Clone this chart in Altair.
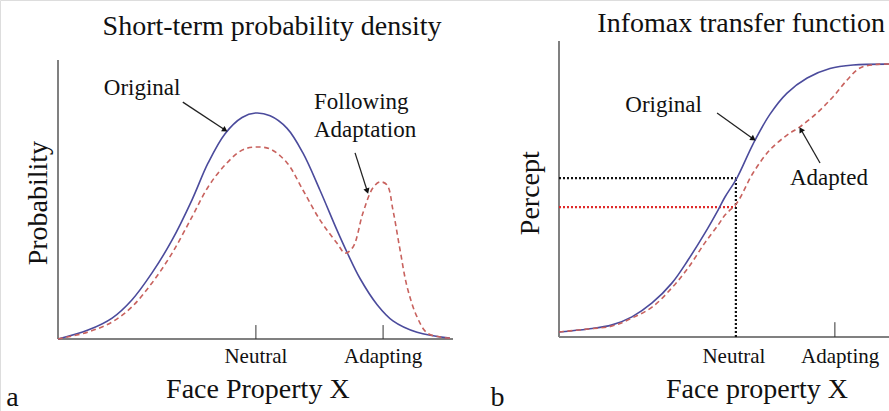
import altair as alt
import pandas as pd

# ---------------- Panel a: short-term probability density ----------------
a_orig_x = [0, 7.6, 13.7, 18.7, 23.8, 28.9, 33.9, 38.0, 42.3, 46.6, 50.0, 53.7, 58.0, 62.0, 66.3, 70.6, 73.2, 76.5, 80.8, 84.8, 90.9, 99.2]
a_orig_y = [0, 3.2, 7.5, 14.0, 23.7, 35.5, 49.8, 63.1, 73.6, 79.4, 81.0, 80.0, 75.5, 66.7, 53.4, 39.1, 31.0, 21.6, 12.3, 6.5, 2.4, 0.3]
a_adapt_x = [0, 7.6, 13.7, 18.7, 23.8, 28.9, 33.9, 38.0, 42.3, 46.6, 50.0, 53.7, 58.0, 62.0, 66.3, 70.6, 72.7, 74.7, 77.2, 79.7, 81.5, 83.3, 84.8, 86.6, 88.4, 90.9, 93.4, 96.7, 99.2]
a_adapt_y = [0, 2.5, 6.1, 11.5, 20.1, 30.8, 43.7, 54.5, 62.4, 67.7, 68.8, 68.1, 63.1, 53.4, 42.7, 34.4, 30.8, 33.0, 45.2, 54.1, 56.3, 55.2, 46.2, 31.9, 18.6, 7.9, 2.2, 0.7, 0.3]
a_tick_x = [50.1, 82.3]
a_tick_labels = ["Neutral", "Adapting"]

# ---------------- Panel b: infomax transfer function ----------------
b_orig_x = [0, 8.8, 16.1, 22.1, 28.2, 34.2, 39.1, 44.2, 48.2, 50.3, 53.9, 58.8, 63.9, 69.1, 75.2, 82.1, 89.1, 100]
b_orig_y = [1.7, 2.7, 4.1, 6.8, 11.5, 18.2, 26.0, 35.1, 42.9, 47.3, 53.7, 65.2, 75.2, 82.4, 87.5, 90.7, 91.9, 92.2]
b_adapt_x = [0, 8.8, 16.1, 22.1, 28.2, 34.2, 39.1, 44.2, 48.2, 50.3, 53.9, 58.8, 63.9, 69.1, 73.0, 78.2, 83.0, 87.3, 91.2, 96.4, 100]
b_adapt_y = [1.7, 2.7, 3.7, 6.4, 10.1, 16.6, 23.3, 31.8, 37.8, 41.2, 45.3, 55.4, 63.2, 68.2, 71.0, 75.7, 81.1, 86.8, 90.9, 92.1, 92.2]
b_tick_x = [53.6, 83.6]
b_label_x = [53.0, 85.2]
b_tick_labels = ["Neutral", "Adapting"]
b_level_orig = 53.7
b_level_adapt = 43.9

FONT = "Liberation Serif"
BLUE = "#4b4b9c"
RED = "#c8625e"
AXIS = "#808080"

xa = alt.Scale(domain=[0, 100], range=[58, 453], nice=False, zero=False)
ya = alt.Scale(domain=[0, 100], range=[339, 60], nice=False, zero=False)
xb = alt.Scale(domain=[0, 100], range=[559, 889], nice=False, zero=False)
yb = alt.Scale(domain=[0, 100], range=[337, 41], nice=False, zero=False)


def X(f, s):
    return alt.X(f, type="quantitative", scale=s, axis=None)


def Y(f, s):
    return alt.Y(f, type="quantitative", scale=s, axis=None)


def panel(xs, ys, orig_x, orig_y, adapt_x, adapt_y, ticks, labels, label_x,
          texts, arrows, extra):
    orig = pd.DataFrame({"x": orig_x, "y": orig_y})
    adapt = pd.DataFrame({"x": adapt_x, "y": adapt_y})
    axes = pd.DataFrame({"x": [0, 0], "y": [0, 0], "x2": [0, 100], "y2": [100, 0]})
    tk = pd.DataFrame({"x": ticks, "y": [0] * len(ticks), "y2": [5] * len(ticks)})
    tl = pd.DataFrame({"x": label_x, "y": [-8.7] * len(labels), "t": labels})
    layers = [
        alt.Chart(axes).mark_rule(color=AXIS, strokeWidth=2).encode(
            x=X("x", xs), y=Y("y", ys), x2="x2", y2="y2"),
        alt.Chart(tk).mark_rule(color="#333333", strokeWidth=1).encode(
            x=X("x", xs), y=Y("y", ys), y2="y2"),
    ]
    layers += extra
    layers += [
        alt.Chart(orig).mark_line(color=BLUE, strokeWidth=1.6, interpolate="catmull-rom").encode(
            x=X("x", xs), y=Y("y", ys)),
        alt.Chart(adapt).mark_line(color=RED, strokeWidth=1.6, strokeDash=[5, 3.5],
                                   interpolate="catmull-rom").encode(
            x=X("x", xs), y=Y("y", ys)),
        alt.Chart(tl).mark_text(font=FONT, fontSize=21, color="#111111", align="center",
                                baseline="alphabetic").encode(
            x=X("x", xs), y=Y("y", ys), text="t:N"),
    ]
    ar = pd.DataFrame(arrows, columns=["x", "y", "x2", "y2", "ang"])
    layers += [
        alt.Chart(ar).mark_rule(color="#222222", strokeWidth=1.3).encode(
            x=X("x", xs), y=Y("y", ys), x2="x2", y2="y2"),
        alt.Chart(ar).mark_point(shape="triangle-up", filled=True, color="#111111",
                                 size=40, opacity=1).encode(
            x=X("x2", xs), y=Y("y2", ys), angle=alt.Angle("ang:Q", scale=None)),
    ]
    for (tx, ty, t, size, align, angle) in texts:
        d = pd.DataFrame({"x": [tx], "y": [ty], "t": [t]})
        layers.append(
            alt.Chart(d).mark_text(font=FONT, fontSize=size, color="#111111", align=align,
                                   baseline="alphabetic", angle=angle).encode(
                x=X("x", xs), y=Y("y", ys), text="t:N"))
    return alt.layer(*layers)


a_texts = [
    (54.2, 109.0, "Short-term probability density", 28, "center", 0),
    (50.6, -21.1, "Face Property X", 28, "center", 0),
    (-2.9, 48.7, "Probability", 28, "center", 270),
    (-11.5, -24.0, "a", 28, "center", 0),
    (21.3, 87.5, "Original", 23, "center", 0),
    (64.8, 82.4, "Following", 23, "left", 0),
    (64.8, 72.4, "Adaptation", 23, "left", 0),
]
a_arrows = [
    (31.6, 84.9, 42.3, 74.9, 123),
    (75.2, 66.7, 78.3, 53.0, 162),
]

b_texts = [
    (55.2, 103.0, "Infomax transfer function", 28, "center", 0),
    (60.0, -20.6, "Face property X", 28, "center", 0),
    (-6.1, 48.6, "Percept", 28, "center", 270),
    (-18.6, -23.3, "b", 28, "center", 0),
    (31.7, 76.0, "Original", 23, "center", 0),
    (81.8, 51.4, "Adapted", 23, "center", 0),
]
b_arrows = [
    (47.9, 75.7, 58.9, 66.9, 125),
    (79.1, 58.8, 73.3, 70.1, 330),
]

dots = pd.DataFrame({
    "x": [0, 0, b_tick_x[0]],
    "x2": [b_tick_x[0], b_tick_x[0], b_tick_x[0]],
    "y": [b_level_orig, b_level_adapt, 0],
    "y2": [b_level_orig, b_level_adapt, b_level_orig],
    "c": ["k", "r", "k"],
})
b_extra = [
    alt.Chart(dots).mark_rule(strokeWidth=2.2, strokeDash=[2, 2]).encode(
        x=X("x", xb), y=Y("y", yb), x2="x2", y2="y2",
        color=alt.Color("c:N", scale=alt.Scale(domain=["k", "r"], range=["#111111", "#e02a2a"]),
                        legend=None)),
]

left = panel(xa, ya, a_orig_x, a_orig_y, a_adapt_x, a_adapt_y, a_tick_x, a_tick_labels,
             a_tick_x, a_texts, a_arrows, [])
right = panel(xb, yb, b_orig_x, b_orig_y, b_adapt_x, b_adapt_y, [b_tick_x[1]], [b_tick_labels[1]],
              [b_label_x[1]], b_texts, b_arrows, b_extra)

# Neutral label for panel b (its tick is the dotted vertical line)
nl = pd.DataFrame({"x": [b_label_x[0]], "y": [-8.7], "t": [b_tick_labels[0]]})
right = alt.layer(right, alt.Chart(nl).mark_text(font=FONT, fontSize=21, color="#111111",
                                                 align="center", baseline="alphabetic").encode(
    x=X("x", xb), y=Y("y", yb), text="t:N"))

chart = alt.layer(left, right).resolve_scale(x="independent", y="independent").properties(
    width=889, height=411, padding=0,
    autosize=alt.AutoSizeParams(type="none"),
).configure_view(stroke=None).configure(background="white")

chart.save("out.html", embed_options={"renderer": "svg", "actions": False})
